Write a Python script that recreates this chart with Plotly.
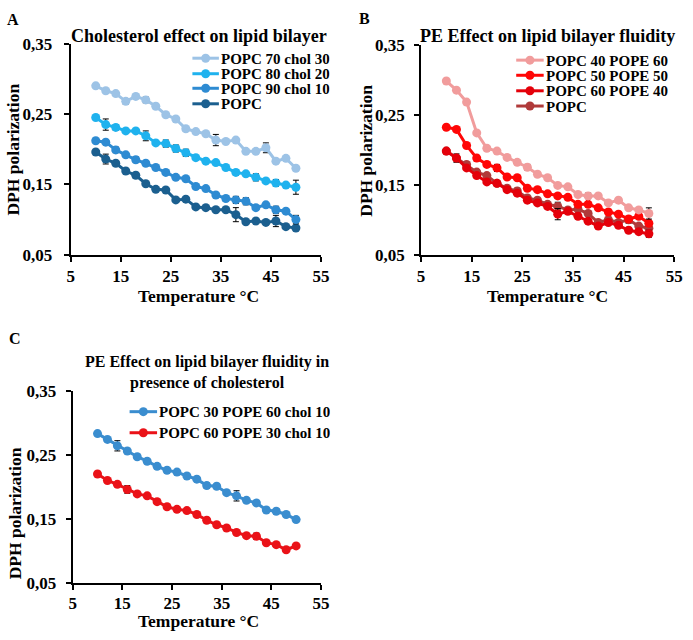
import plotly.graph_objects as go

# ---------------- data ----------------
temps = [10, 12, 14, 16, 18, 20, 22, 24, 26, 28, 30, 32, 34, 36, 38, 40, 42, 44, 46, 48, 50]

# Panel A: Cholesterol effect on lipid bilayer
a_names = ["POPC 70 chol 30", "POPC 80 chol 20", "POPC 90 chol 10", "POPC"]
a_chol30 = [0.290, 0.283, 0.279, 0.268, 0.275, 0.270, 0.261, 0.249, 0.243, 0.229, 0.225,
            0.222, 0.213, 0.211, 0.213, 0.197, 0.197, 0.202, 0.183, 0.187, 0.173]
a_chol20 = [0.245, 0.235, 0.231, 0.226, 0.226, 0.219, 0.209, 0.208, 0.201, 0.195, 0.188,
            0.183, 0.181, 0.174, 0.167, 0.165, 0.160, 0.155, 0.152, 0.149, 0.146]
a_chol10 = [0.212, 0.210, 0.199, 0.192, 0.185, 0.180, 0.174, 0.167, 0.160, 0.158, 0.147,
            0.144, 0.135, 0.130, 0.128, 0.126, 0.117, 0.121, 0.114, 0.112, 0.100]
a_popc = [0.196, 0.186, 0.180, 0.169, 0.163, 0.151, 0.143, 0.142, 0.128, 0.129, 0.118,
          0.117, 0.114, 0.114, 0.107, 0.097, 0.098, 0.096, 0.098, 0.090, 0.088]
a_chol30_err = [0.002, 0.002, 0.002, 0.004, 0.002, 0.004, 0.002, 0.002, 0.002, 0.003, 0.002,
                0.002, 0.008, 0.002, 0.002, 0.002, 0.003, 0.007, 0.002, 0.002, 0.002]
a_chol20_err = [0.002, 0.008, 0.004, 0.002, 0.002, 0.007, 0.002, 0.005, 0.005, 0.005, 0.002,
                0.002, 0.002, 0.002, 0.004, 0.002, 0.005, 0.002, 0.005, 0.002, 0.010]
a_chol10_err = [0.002, 0.002, 0.004, 0.002, 0.004, 0.002, 0.002, 0.002, 0.002, 0.002, 0.002,
                0.002, 0.002, 0.004, 0.005, 0.005, 0.002, 0.002, 0.005, 0.002, 0.006]
a_popc_err = [0.002, 0.007, 0.002, 0.002, 0.004, 0.002, 0.002, 0.002, 0.002, 0.002, 0.003,
              0.002, 0.002, 0.002, 0.010, 0.002, 0.002, 0.002, 0.008, 0.002, 0.003]

# Panel B: PE effect on lipid bilayer fluidity
b_names = ["POPC 40 POPE 60", "POPC 50 POPE 50", "POPC 60 POPE 40", "POPC"]
b_pe60 = [0.298, 0.285, 0.268, 0.224, 0.202, 0.198, 0.189, 0.182, 0.175, 0.165, 0.160,
          0.149, 0.147, 0.136, 0.134, 0.134, 0.124, 0.128, 0.117, 0.114, 0.109]
b_pe50 = [0.232, 0.229, 0.206, 0.188, 0.179, 0.174, 0.161, 0.160, 0.145, 0.143, 0.137,
          0.134, 0.132, 0.122, 0.122, 0.117, 0.111, 0.108, 0.101, 0.105, 0.095]
b_pe40 = [0.198, 0.188, 0.174, 0.163, 0.154, 0.152, 0.143, 0.138, 0.128, 0.124, 0.119,
          0.108, 0.112, 0.105, 0.098, 0.091, 0.096, 0.092, 0.085, 0.083, 0.080]
b_popc = [0.198, 0.188, 0.179, 0.168, 0.163, 0.152, 0.145, 0.141, 0.131, 0.128, 0.122,
          0.119, 0.114, 0.115, 0.109, 0.096, 0.100, 0.096, 0.100, 0.091, 0.088]
b_pe60_err = [0.002, 0.002, 0.002, 0.002, 0.002, 0.002, 0.002, 0.002, 0.004, 0.002, 0.002,
              0.002, 0.002, 0.002, 0.004, 0.002, 0.002, 0.002, 0.002, 0.002, 0.008]
b_pe50_err = [0.002, 0.002, 0.002, 0.004, 0.002, 0.005, 0.002, 0.002, 0.002, 0.002, 0.002,
              0.003, 0.002, 0.002, 0.003, 0.002, 0.002, 0.002, 0.002, 0.002, 0.004]
b_pe40_err = [0.002, 0.002, 0.002, 0.002, 0.002, 0.002, 0.002, 0.002, 0.002, 0.002, 0.002,
              0.008, 0.002, 0.002, 0.002, 0.002, 0.002, 0.002, 0.002, 0.002, 0.005]
b_popc_err = [0.002, 0.006, 0.002, 0.002, 0.002, 0.002, 0.002, 0.004, 0.002, 0.002, 0.002,
              0.006, 0.002, 0.002, 0.002, 0.002, 0.002, 0.002, 0.005, 0.002, 0.003]

# Panel C: PE effect in presence of cholesterol
c_names = ["POPC 30 POPE 60 chol 10", "POPC 60 POPE 30 chol 10"]
c_pe60 = [0.283, 0.274, 0.264, 0.256, 0.247, 0.240, 0.232, 0.226, 0.223, 0.217, 0.212,
          0.202, 0.201, 0.191, 0.186, 0.179, 0.175, 0.164, 0.162, 0.157, 0.149]
c_pe30 = [0.220, 0.210, 0.204, 0.196, 0.189, 0.186, 0.177, 0.169, 0.165, 0.163, 0.157,
          0.148, 0.141, 0.136, 0.129, 0.124, 0.123, 0.113, 0.110, 0.102, 0.108]
c_pe60_err = [0.002, 0.002, 0.008, 0.002, 0.002, 0.002, 0.002, 0.002, 0.002, 0.002, 0.002,
              0.004, 0.002, 0.002, 0.008, 0.002, 0.002, 0.002, 0.004, 0.002, 0.002]
c_pe30_err = [0.002, 0.002, 0.002, 0.006, 0.002, 0.002, 0.002, 0.002, 0.002, 0.002, 0.002,
              0.004, 0.002, 0.002, 0.002, 0.002, 0.005, 0.002, 0.002, 0.002, 0.002]

x_tickvals = [5, 15, 25, 35, 45, 55]
y_tickvals = [0.05, 0.15, 0.25, 0.35]
y_ticktext = ["0,05", "0,15", "0,25", "0,35"]

titles = ["Cholesterol effect on lipid bilayer", "PE Effect on lipid bilayer fluidity",
          "PE Effect on lipid bilayer fluidity in<br>presence of cholesterol"]
panel_letters = ["A", "B", "C"]
x_title = "Temperature °C"
y_title = "DPH polarization"

# ---------------- styling ----------------
W, H = 693, 640
FONT = "Liberation Serif"
a_colors = ["#9dc3e6", "#1fb2ee", "#2e8bd2", "#1b5f8f"]
b_colors = ["#f19c9c", "#ff0606", "#e4000a", "#b03a3a"]
c_colors = ["#3a8dcf", "#ea1218"]


def fx(px):
    return px / W


def fy(py):
    return 1 - py / H


fig = go.Figure()


def add_series(xa, ya, name, yvals, errs, color):
    fig.add_trace(go.Scatter(
        x=temps, y=yvals, name=name, mode="lines+markers",
        xaxis=xa, yaxis=ya, showlegend=False,
        line=dict(color=color, width=3),
        marker=dict(color=color, size=9, symbol="circle"),
        error_y=dict(type="data", array=errs, color="black", thickness=1, width=3),
        cliponaxis=False,
    ))


a_series = [a_chol30, a_chol20, a_chol10, a_popc]
a_errs = [a_chol30_err, a_chol20_err, a_chol10_err, a_popc_err]
b_series = [b_pe60, b_pe50, b_pe40, b_popc]
b_errs = [b_pe60_err, b_pe50_err, b_pe40_err, b_popc_err]
c_series = [c_pe60, c_pe30]
c_errs = [c_pe60_err, c_pe30_err]

for i in range(3, -1, -1):
    add_series("x", "y", a_names[i], a_series[i], a_errs[i], a_colors[i])
for i in range(3, -1, -1):
    add_series("x2", "y2", b_names[i], b_series[i], b_errs[i], b_colors[i])
for i in range(1, -1, -1):
    add_series("x3", "y3", c_names[i], c_series[i], c_errs[i], c_colors[i])

tickfont = dict(family=FONT, size=17, color="black", weight="bold")


def xaxis_cfg(domain, anchor, standoff=0):
    return dict(domain=domain, anchor=anchor, range=[5, 55], tickvals=x_tickvals,
                showline=True, linecolor="black", linewidth=2, ticks="outside",
                ticklen=5, tickwidth=2, tickcolor="black", showgrid=False,
                zeroline=False, tickfont=tickfont, fixedrange=True,
                ticklabelstandoff=standoff)


def yaxis_cfg(domain, anchor, standoff):
    return dict(domain=domain, anchor=anchor, range=[0.05, 0.35], tickvals=y_tickvals,
                ticktext=y_ticktext, showline=True, linecolor="black", linewidth=2,
                ticks="outside", ticklen=5, tickwidth=2, tickcolor="black",
                showgrid=False, zeroline=False, tickfont=tickfont, fixedrange=True,
                ticklabelstandoff=standoff)


annotations = []
shapes = []


def text(px, py, s, size, xanchor="center", angle=0, height=None):
    ann = dict(x=fx(px), y=fy(py), xref="paper", yref="paper", text=s,
               showarrow=False, xanchor=xanchor, yanchor="middle",
               textangle=angle,
               font=dict(family=FONT, size=size, color="black", weight="bold"))
    if height is not None:
        ann["height"] = height
        ann["borderpad"] = 0
        ann["valign"] = "middle"
    annotations.append(ann)


def legend(x_line0, x_line1, x_text, ys, names, colors):
    for yy, nm, col in zip(ys, names, colors):
        shapes.append(dict(type="line", xref="paper", yref="paper",
                           x0=fx(x_line0), x1=fx(x_line1), y0=fy(yy), y1=fy(yy),
                           line=dict(color=col, width=3)))
        cx = (x_line0 + x_line1) / 2
        shapes.append(dict(type="circle", xref="paper", yref="paper",
                           xsizemode="pixel", ysizemode="pixel",
                           xanchor=fx(cx), yanchor=fy(yy), x0=-4.5, x1=4.5, y0=-4.5, y1=4.5,
                           fillcolor=col, line=dict(color=col, width=0)))
        text(x_text, yy, nm, 15, xanchor="left", height=15)


# Titles
text(199, 28, titles[0], 18)
text(554, 28, titles[1], 18)
text(207, 375, titles[2], 16)

# Panel letters
text(9, 11, panel_letters[0], 16)
text(367, 10, panel_letters[1], 16)
text(11, 340, panel_letters[2], 16)

# Axis titles
text(198, 296, x_title, 17.5)
text(554, 296, x_title, 17.5)
text(198, 631, x_title, 17.5)
text(9, 145, y_title, 17.5, angle=-90)
text(369, 146, y_title, 17.5, angle=-90)
text(11, 520, y_title, 17.5, angle=-90)

# Legends
legend(192, 219, 220, [50.7, 66.7, 81.7, 97.7], a_names, a_colors)
legend(522, 550, 551, [52.7, 68.3, 84.3, 100], b_names, b_colors)
legend(128, 156, 157, [415, 436.7], c_names, c_colors)

fig.update_layout(
    width=W, height=H,
    margin=dict(l=0, r=0, t=0, b=0),
    paper_bgcolor="white", plot_bgcolor="white",
    font=dict(family=FONT, color="black"),
    showlegend=False,
    xaxis=xaxis_cfg([fx(68), fx(323)], "y"),
    yaxis=yaxis_cfg([fy(253.3), fy(35.7)], "x", 8),
    xaxis2=xaxis_cfg([fx(425), fx(683)], "y2"),
    yaxis2=yaxis_cfg([fy(253.3), fy(36.7)], "x2", 6),
    xaxis3=xaxis_cfg([fx(70), fx(323)], "y3", -2),
    yaxis3=yaxis_cfg([fy(591.7), fy(393.3)], "x3", 6),
    annotations=annotations,
    shapes=shapes,
)

fig.write_html("out.html", config={"displayModeBar": False},
               post_script="document.body.style.margin='0';")
